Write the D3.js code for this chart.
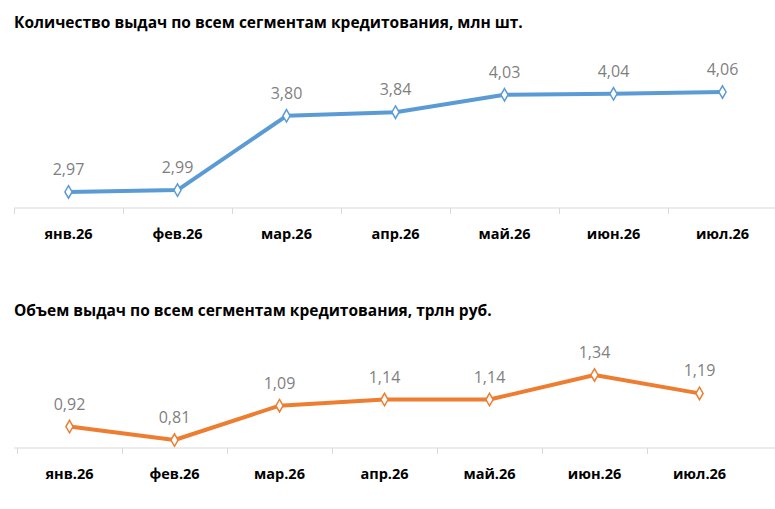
<!DOCTYPE html>
<html><head><meta charset="utf-8">
<script src="https://cdn.jsdelivr.net/npm/d3@7"></script>
<style>body{margin:0;background:#fff}</style></head>
<body><svg id="c" width="775" height="509"></svg>
<script>
const categories=["янв.26","фев.26","мар.26","апр.26","май.26","июн.26","июл.26"];
const countValues=[2.97,2.99,3.80,3.84,4.03,4.04,4.06];
const volumeValues=[0.92,0.81,1.09,1.14,1.14,1.34,1.19];
const titles=["Количество выдач по всем сегментам кредитования, млн шт.","Объем выдач по всем сегментам кредитования, трлн руб."];
const svg=d3.select("#c");
const F="Open Sans, Liberation Sans, Arial";
function panel(xr,vals,domain,range,color,title,titleY,axisY,labelY){
  const x=d3.scaleBand().domain(categories).range(xr);
  svg.append("text").attr("x",14).attr("y",titleY).text(title)
    .attr("font-family",F).attr("font-weight","bold").attr("font-size",15.5).attr("fill","#000");
  const y=d3.scaleLinear().domain(domain).range(range);
  const ax=svg.append("g").attr("transform",`translate(0,${axisY})`).call(d3.axisBottom(x).tickSize(0).tickPadding(0));
  ax.select(".domain").remove();
  ax.selectAll("text").attr("y",labelY-axisY).attr("dy",0).attr("font-family",F).attr("font-weight","bold").attr("font-size",14.5).attr("fill","#000");
  svg.append("line").attr("x1",14).attr("x2",775).attr("y1",axisY).attr("y2",axisY).attr("stroke","#d9d9d9");
  categories.forEach(c=>svg.append("line").attr("x1",x(c)+0.5).attr("x2",x(c)+0.5).attr("y1",axisY).attr("y2",axisY+6).attr("stroke","#d9d9d9"));
  const cx=c=>x(c)+x.bandwidth()/2;
  svg.append("path").datum(vals).attr("fill","none").attr("stroke",color).attr("stroke-width",4).attr("stroke-linejoin","round")
    .attr("d",d3.line().x((d,i)=>cx(categories[i])).y(d=>y(d)));
  svg.selectAll(null).data(vals).enter().append("path")
    .attr("d",d3.symbol(d3.symbolDiamond,45)())
    .attr("transform",(d,i)=>`translate(${cx(categories[i])},${y(d)})`)
    .attr("fill","#fff").attr("stroke",color).attr("stroke-width",1.5);
  svg.selectAll(null).data(vals).enter().append("text")
    .attr("x",(d,i)=>cx(categories[i])).attr("y",d=>y(d)-17)
    .attr("text-anchor","middle").attr("font-family",F).attr("font-size",16).attr("fill","#7f7f7f")
    .text(d=>d.toFixed(2).replace(".",","));
}
panel([14,777],countValues,[2.795,4.06],[208,92],"#5b9bd5",titles[0],28,208,239);
panel([17,752],volumeValues,[0.745,1.34],[448,375],"#ed7d31",titles[1],316,448,479);
</script></body></html>
